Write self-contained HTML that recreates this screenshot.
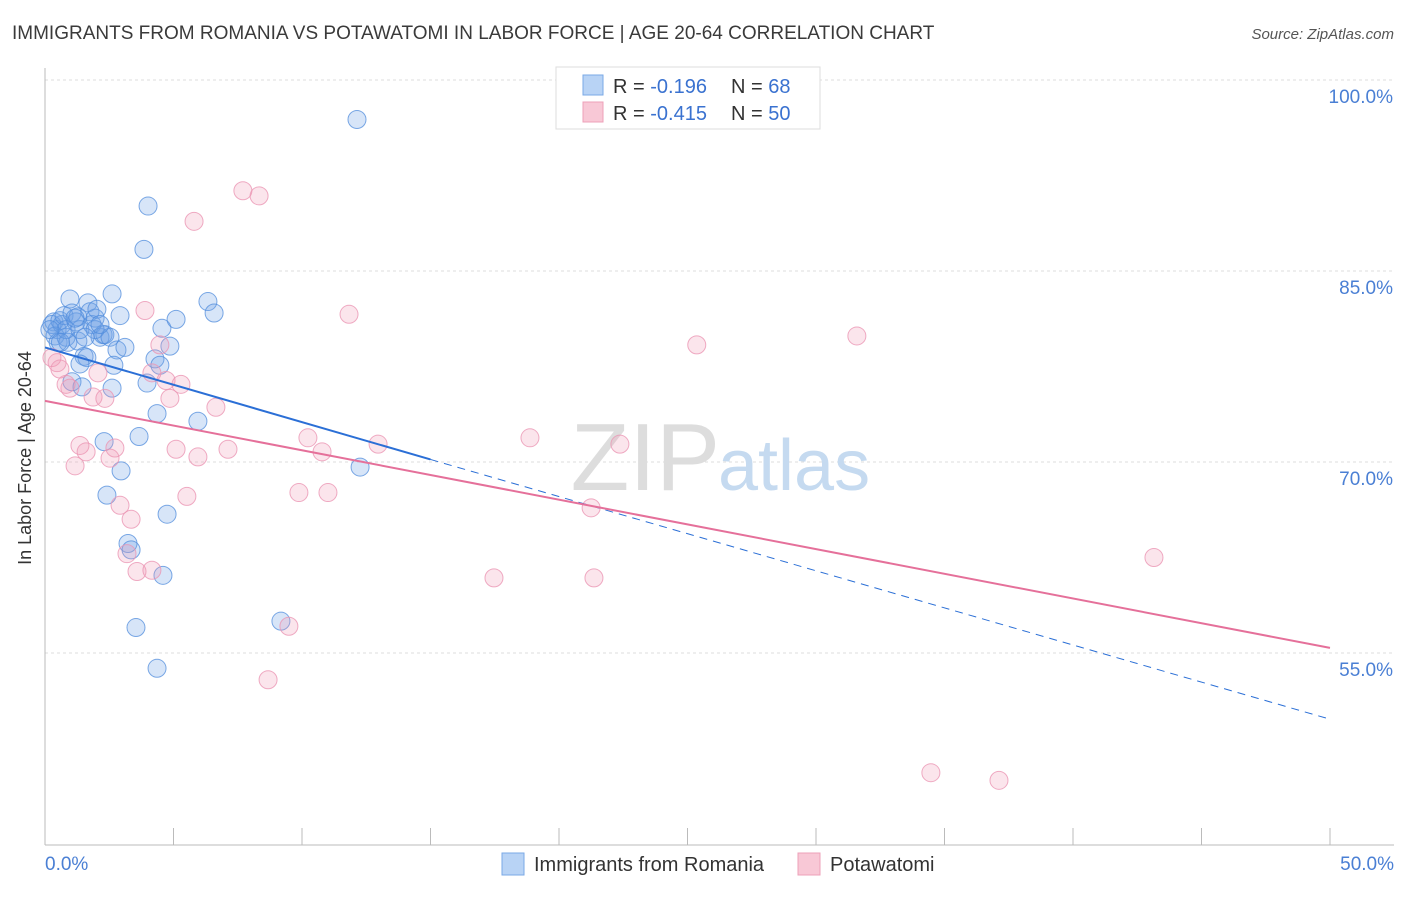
<!DOCTYPE html>
<html><head><meta charset="utf-8"><style>
body{margin:0;background:#fff;font-family:"Liberation Sans",sans-serif}
svg text{font-family:"Liberation Sans",sans-serif}
</style></head><body>
<svg width="1406" height="892">
<text x="12" y="39" font-size="19" fill="#3a3a3a">IMMIGRANTS FROM ROMANIA VS POTAWATOMI IN LABOR FORCE | AGE 20-64 CORRELATION CHART</text>
<text x="1394" y="39" font-size="15" fill="#555" font-style="italic" text-anchor="end">Source: ZipAtlas.com</text>
<g id="grid"></g>
<text x="720" y="490" font-size="96" fill="#ddd" text-anchor="end" font-family="Liberation Serif">ZIP</text>
<text x="718" y="490" font-size="72" fill="#c5daf0">atlas</text>
<line x1="45" y1="68" x2="45" y2="845" stroke="#bbb"/>
<line x1="45" y1="845" x2="1394" y2="845" stroke="#bbb"/>
<g id="ticks"></g>
<g id="pts"></g>
<g id="lines"></g>
<text x="31" y="458" font-size="18" fill="#333" text-anchor="middle" transform="rotate(-90 31 458)">In Labor Force | Age 20-64</text>
<text x="45" y="870" font-size="19" fill="#4a7fd4">0.0%</text>
<text x="1394" y="870" font-size="19" fill="#4a7fd4" text-anchor="end">50.0%</text>
<g>
<rect x="556" y="67" width="264" height="62" fill="#fff" stroke="#ddd"/>
<rect x="583" y="75" width="20" height="20" fill="#b8d3f5" stroke="#7aa8e6"/>
<rect x="583" y="102" width="20" height="20" fill="#f8c8d6" stroke="#eea0b8"/>
<text x="613" y="93" font-size="20" fill="#333">R = <tspan fill="#3a72d0">-0.196</tspan><tspan x="731">N = </tspan><tspan fill="#3a72d0">68</tspan></text>
<text x="613" y="120" font-size="20" fill="#333">R = <tspan fill="#3a72d0">-0.415</tspan><tspan x="731">N = </tspan><tspan fill="#3a72d0">50</tspan></text>
</g>
<g>
<rect x="502" y="853" width="22" height="22" fill="#b8d3f5" stroke="#7aa8e6"/>
<text x="534" y="871" font-size="20" fill="#333">Immigrants from Romania</text>
<rect x="798" y="853" width="22" height="22" fill="#f8c8d6" stroke="#eea0b8"/>
<text x="830" y="871" font-size="20" fill="#333">Potawatomi</text>
</g>
</svg>
<script>
const yTicks=[100,85,70,55];
const xTicks=[0,5,10,15,20,25,30,35,40,45,50];
const blueX=[0.35,0.47,0.27,0.66,0.58,0.39,0.51,0.74,0.97,1.05,1.21,1.28,1.67,1.75,1.83,1.95,2.02,2.14,2.26,2.33,2.53,2.61,2.92,2.80,3.11,0.82,0.89,1.52,1.63,1.36,1.05,1.44,1.28,2.61,2.68,4.28,4.47,3.97,4.01,3.85,4.55,4.86,5.10,6.34,6.58,4.36,5.95,3.66,2.30,2.96,2.41,4.75,3.23,3.35,4.59,3.54,4.36,9.18,12.26,12.14,0.82,1.36,1.95,0.19,1.17,2.14,1.56,0.6];
const blueY=[81.0,80.4,80.8,80.8,81.1,79.9,79.4,81.5,82.8,81.7,81.0,81.4,82.5,81.8,80.8,81.3,82.0,79.8,80.0,80.0,79.8,83.2,81.5,78.8,79.0,79.8,79.4,78.3,78.2,77.7,76.3,75.9,79.5,75.8,77.6,78.1,77.6,76.2,90.1,86.7,80.5,79.1,81.2,82.6,81.7,73.8,73.2,72.0,71.6,69.3,67.4,65.9,63.6,63.1,61.1,57.0,53.8,57.5,69.6,96.9,80.4,80.4,80.4,80.4,81.3,80.8,79.8,79.4];
const pinkX=[7.70,8.33,5.80,3.89,11.83,31.59,25.36,0.27,0.47,0.58,4.47,4.16,4.71,5.29,2.06,0.97,0.82,1.87,2.33,4.86,6.65,1.36,1.60,2.72,2.53,1.17,5.10,5.95,7.12,10.23,10.78,12.96,18.87,22.37,5.52,9.88,11.01,2.92,3.35,3.19,3.58,4.16,21.25,17.47,21.36,43.15,9.49,8.68,34.47,37.12];
const pinkY=[91.3,90.9,88.9,81.9,81.6,79.9,79.2,78.2,77.8,77.3,79.2,77.0,76.4,76.1,77.0,75.8,76.1,75.1,75.0,75.0,74.3,71.3,70.8,71.1,70.3,69.7,71.0,70.4,71.0,71.9,70.8,71.4,71.9,71.4,67.3,67.6,67.6,66.6,65.5,62.8,61.4,61.5,66.4,60.9,60.9,62.5,57.1,52.9,45.6,45.0];
const blueLine=[79.0,70.2,49.8], blueLineX=[0,15,50];
const pinkLine=[74.8,55.4], pinkLineX=[0,50];
const NS="http://www.w3.org/2000/svg";
const xs=v=>45+v/50*1285, ys=v=>80+(100-v)*191/15;
function mk(t,a,p){const e=document.createElementNS(NS,t);for(const k in a)e.setAttribute(k,a[k]);document.getElementById(p).appendChild(e);return e;}
yTicks.forEach(v=>{
 const l=mk('line',{x1:45,x2:1394,y1:ys(v),y2:ys(v),stroke:'#ddd','stroke-dasharray':'3,3'},'grid');
 
 
 const t=mk('text',{x:1393,y:ys(v)+23,'font-size':19,fill:'#4a7fd4','text-anchor':'end'},'grid');
 t.textContent=v.toFixed(1)+'%';
 
 
});
xTicks.forEach(v=>{
 const l=mk('line',{x1:xs(v),x2:xs(v),y1:828,y2:845,stroke:'#bbb'},'ticks');
 
 
});
function pts(X,Y,fill,stroke,name){X.forEach((x,i)=>{
 const c=mk('circle',{cx:xs(x),cy:ys(Y[i]),r:9,fill:fill,stroke:stroke,'stroke-width':1},'pts');
 
 
});}
pts(blueX,blueY,'rgba(110,160,230,0.28)','rgba(80,140,220,0.75)','romania-point');
pts(pinkX,pinkY,'rgba(240,150,180,0.25)','rgba(235,150,180,0.8)','potawatomi-point');
let b1=mk('line',{x1:xs(blueLineX[0]),y1:ys(blueLine[0]),x2:xs(blueLineX[1]),y2:ys(blueLine[1]),stroke:'#2b6fd6','stroke-width':2},'lines');


let b2=mk('line',{x1:xs(blueLineX[1]),y1:ys(blueLine[1]),x2:xs(blueLineX[2]),y2:ys(blueLine[2]),stroke:'#2b6fd6','stroke-width':1,'stroke-dasharray':'8,6'},'lines');


let p1=mk('line',{x1:xs(pinkLineX[0]),y1:ys(pinkLine[0]),x2:xs(pinkLineX[1]),y2:ys(pinkLine[1]),stroke:'#e5709a','stroke-width':2},'lines');


</script>
</body></html>
